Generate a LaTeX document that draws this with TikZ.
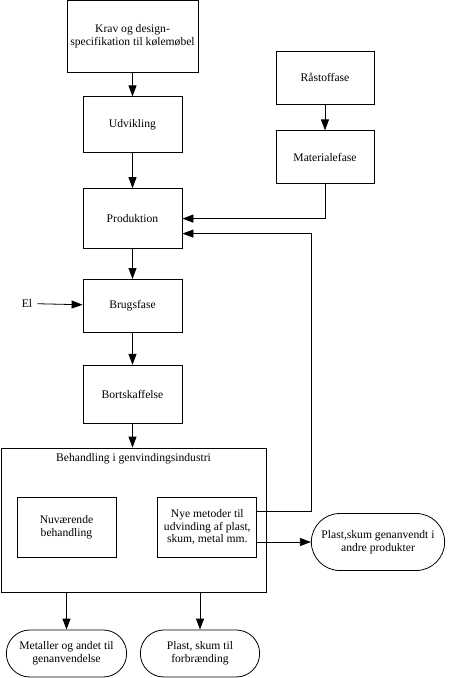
\documentclass[tikz,border=0pt]{standalone}
\usepackage{fontspec}
\setmainfont{Liberation Serif}
\usetikzlibrary{shapes.misc,arrows.meta,positioning}
\tikzset{
    %Define standard arrow tip
    >={Triangle[length=11pt,width=8pt]},
    %Define style for boxes
    block/.style={
           rectangle,
           draw=black,
           line width=0.8pt,
           minimum width=99pt,
           minimum height=56pt,
           align=center,
           font=\fontsize{11.6}{12.7}\selectfont},
    %Define style for end results
    terminal/.style={
           rounded rectangle,
           draw=black,
           line width=0.8pt,
           minimum height=47pt,
           align=center,
           font=\fontsize{11.6}{12.7}\selectfont},
    % Define arrow style
    arrow/.style={
           ->,
           line width=0.8pt,
           }
}
\begin{document}
\begin{tikzpicture}[x=1pt, y=1pt, node distance=24pt]
    \useasboundingbox (0,0) rectangle (450,-678);
    \node [block, minimum width=131pt, minimum height=72pt] (KDS) at (132.5,-36) {Krav og design-\\specifikation til kølemøbel};
    \node [block, below=24pt of KDS] (UDV) {Udvikling};
    \node [block, minimum height=60pt, below=35pt of UDV] (PROD) {Produktion};
    \node [block, minimum height=53pt, below=30pt of PROD] (BRUG) {Brugsfase};
    \node [block, minimum height=58pt, below=32pt of BRUG] (BORT) {Bortskaffelse};
    \node [font=\fontsize{11.6}{12.7}\selectfont, inner sep=5pt] (El) at (27,-303.5) {El};
    \node [block, minimum width=98pt, minimum height=53pt] (RAA) at (325,-77.5) {Råstoffase};
    \node [block, minimum width=98pt, minimum height=53pt, below=26pt of RAA] (MAT) {Materialefase};

    \node [draw, line width=0.8pt, minimum width=265pt, minimum height=144pt] (BEH) at (133.5,-520) {};
    \node [anchor=north, inner sep=2pt, font=\fontsize{11.6}{12.7}\selectfont] (BEHT) at ([yshift=-4pt]BEH.north) {Behandling i genvindingsindustri};
    \node [block, minimum height=60pt] (NUV) at (66.5,-527) {Nuværende\\behandling};
    \node [block, minimum height=60pt, right=41pt of NUV] (NYE) {Nye metoder til\\udvinding af plast,\\skum, metal mm.};

    \node [terminal, minimum width=140pt, minimum height=57pt] (GEN) at (378,-542) {Plast,skum genanvendt i\\andre produkter};
    \node [terminal, minimum width=127pt] (MET) at (66.5,-653.5) {Metaller og andet til\\genanvendelse};
    \node [terminal, minimum width=126pt] (FORB) at (200,-653.5) {Plast, skum til\\forbrænding};

	\path[->] (KDS) edge[arrow] (UDV);
	\path[->] (UDV) edge[arrow] (PROD);
	\path[->] (PROD) edge[arrow] (BRUG);
	\path[->] (BRUG) edge[arrow] (BORT);
	\path[->] (El) edge[arrow] (BRUG);
	\path[->] (BORT) edge[arrow] (BORT |- BEH.north);
	\path[->] (RAA) edge[arrow] (MAT);
	\draw[arrow] (MAT.south) |- (PROD.east);
	\draw[arrow] ([yshift=16pt]NYE.east) -- ++(54pt,0) |- ([yshift=-15pt]PROD.east);
	\draw[arrow] ([yshift=-15pt]NYE.east) -- (GEN.west);
	\draw[arrow] (BEH.south -| MET.north) -- (MET.north);
	\draw[arrow] (BEH.south -| FORB.north) -- (FORB.north);
\end{tikzpicture}
\end{document}
